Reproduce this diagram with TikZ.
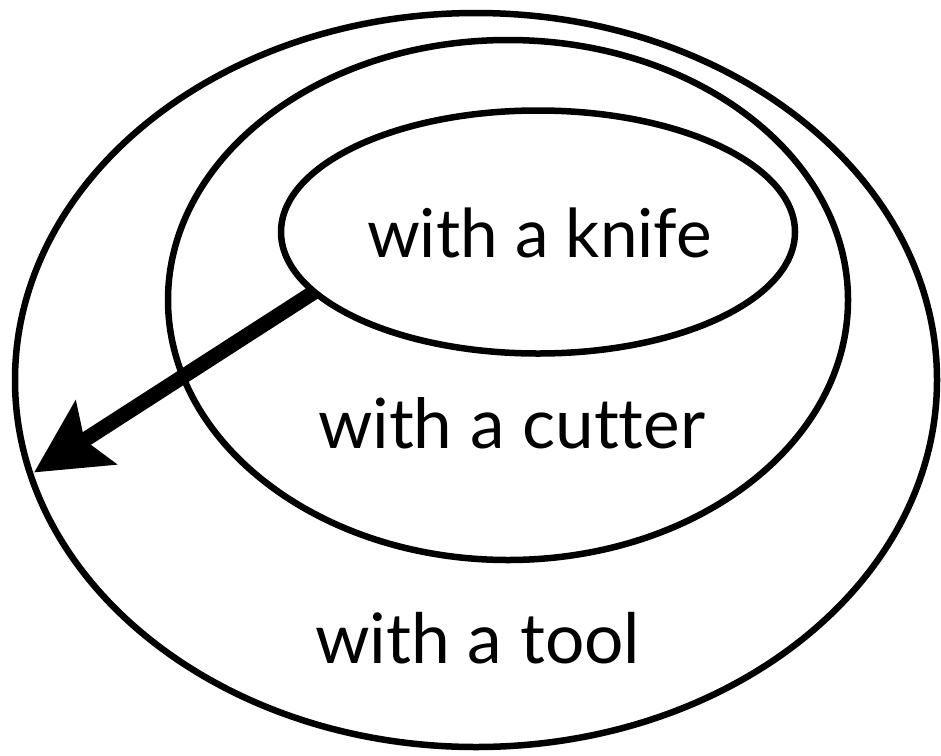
\documentclass[tikz,border=0pt]{standalone}
\usepackage{fontspec}
\setmainfont[Ligatures={NoCommon}]{Lato}
\usetikzlibrary{arrows.meta,shapes.geometric}
\begin{document}
\begin{tikzpicture}[x=1pt,y=-1pt,
  ring/.style={ellipse, draw, line width=6.5pt, outer sep=0pt, inner sep=0pt},
  lbl/.style={anchor=base west, inner sep=0pt, outer sep=0pt},
  bigarrow/.style={line width=15pt, shorten >=4pt, -{Stealth[length=73pt,width=74pt,inset=13pt]}}]
\useasboundingbox (0,0) rectangle (941,755);
\node[ring, minimum width=922pt, minimum height=734pt] (outer) at (476,380) {};
\node[ring, minimum width=680pt, minimum height=520pt] (middle) at (508,300) {};
\node[ring, minimum width=514pt, minimum height=243pt] (inner) at (538,232) {};
\node[lbl] (tknife) at (367,257) {\resizebox{345pt}{!}{with a knife}};
\node[lbl] (tcutter) at (318,448) {\resizebox{387pt}{!}{with a cutter}};
\node[lbl] (ttool) at (315,663) {\resizebox{325pt}{!}{with a tool}};
\draw[bigarrow] (inner.195.6) -- (outer.192.5);
\end{tikzpicture}
\end{document}
